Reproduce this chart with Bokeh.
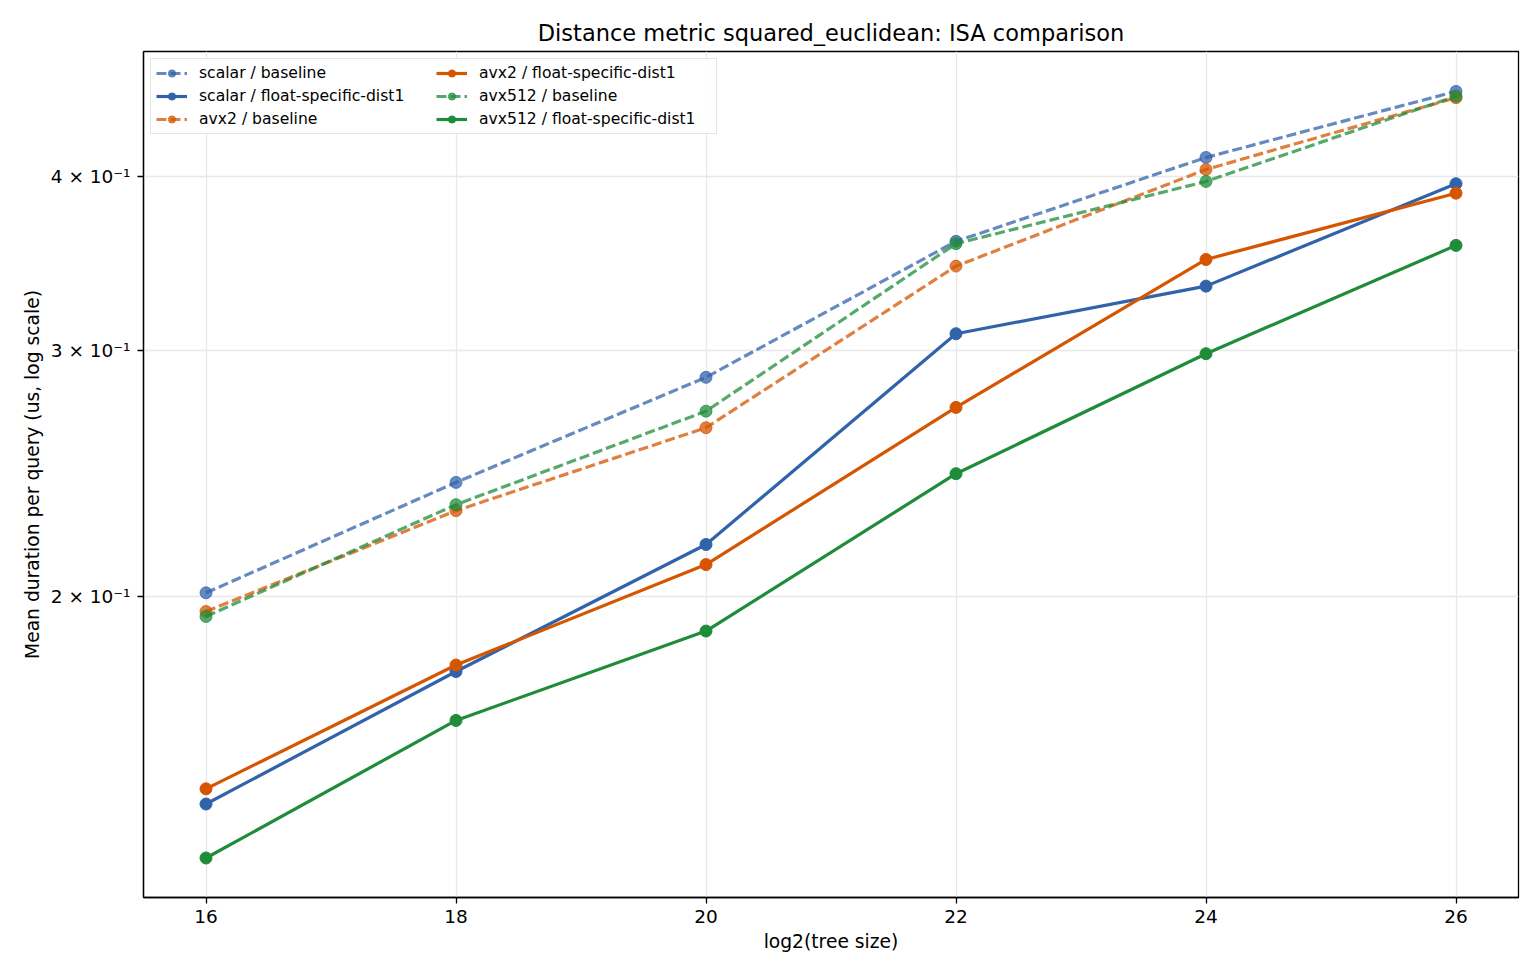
from bokeh.plotting import figure
from bokeh.models import FixedTicker, Range1d, Legend, LegendItem
from bokeh.embed import file_html
from bokeh.resources import INLINE

# log2 of the tree size
tree_log2 = [16, 18, 20, 22, 24, 26]

# mean duration per query (us)
scalar_baseline = [0.2013, 0.2415, 0.2872, 0.3594, 0.4127, 0.4602]
scalar_float = [0.1421, 0.1768, 0.2180, 0.3086, 0.3338, 0.3952]
avx2_baseline = [0.1952, 0.2305, 0.2643, 0.3450, 0.4046, 0.4554]
avx2_float = [0.1457, 0.1787, 0.2109, 0.2733, 0.3488, 0.3891]
avx512_baseline = [0.1936, 0.2328, 0.2716, 0.3580, 0.3967, 0.4566]
avx512_float = [0.1300, 0.1631, 0.1890, 0.2450, 0.2986, 0.3570]

y_tick_values = [0.2, 0.3, 0.4]
y_tick_labels = ["2 × 10⁻¹", "3 × 10⁻¹", "4 × 10⁻¹"]
x_tick_values = [16, 18, 20, 22, 24, 26]

FONT = "DejaVu Sans"
BLUE = "#3063a9"
ORANGE = "#d55500"
GREEN = "#1f8c3a"

series = [
    ("scalar / baseline", scalar_baseline, BLUE, True),
    ("scalar / float-specific-dist1", scalar_float, BLUE, False),
    ("avx2 / baseline", avx2_baseline, ORANGE, True),
    ("avx2 / float-specific-dist1", avx2_float, ORANGE, False),
    ("avx512 / baseline", avx512_baseline, GREEN, True),
    ("avx512 / float-specific-dist1", avx512_float, GREEN, False),
]

p = figure(
    width=1540, height=980,
    y_axis_type="log",
    x_range=Range1d(15.5, 26.5),
    y_range=Range1d(0.1218, 0.4915),
    output_backend="svg",
    toolbar_location=None,
    title="Distance metric squared_euclidean: ISA comparison",
    min_border_left=143, min_border_right=22,
    min_border_top=51, min_border_bottom=83,
)

p.title.align = "center"
p.title.text_font = FONT
p.title.text_font_size = "22.5px"
p.title.text_font_style = "normal"
p.title.text_color = "black"
p.title.standoff = 12

p.outline_line_color = "black"
p.outline_line_width = 1.3
p.background_fill_color = "white"
p.border_fill_color = "white"

for ax in (p.xaxis[0], p.yaxis[0]):
    ax.axis_line_color = "black"
    ax.axis_line_width = 1.3
    ax.major_tick_line_color = "black"
    ax.major_tick_line_width = 1.3
    ax.major_tick_out = 6
    ax.major_tick_in = 0
    ax.minor_tick_line_color = None
    ax.major_label_text_font = FONT
    ax.major_label_text_font_size = "18.5px"
    ax.major_label_text_color = "black"
    ax.axis_label_text_font = FONT
    ax.axis_label_text_font_size = "18.7px"
    ax.axis_label_text_font_style = "normal"
    ax.axis_label_text_color = "black"

p.xaxis.ticker = FixedTicker(ticks=x_tick_values)
p.yaxis.ticker = FixedTicker(ticks=y_tick_values)
p.yaxis.major_label_overrides = dict(zip(y_tick_values, y_tick_labels))
p.xaxis.axis_label = "log2(tree size)"
p.yaxis.axis_label = "Mean duration per query (us, log scale)"
p.xaxis.major_label_standoff = 6
p.yaxis.major_label_standoff = 7
p.yaxis.axis_label_standoff = 5

p.xgrid.ticker = FixedTicker(ticks=x_tick_values)
p.ygrid.ticker = FixedTicker(ticks=y_tick_values)
for g in (p.xgrid[0], p.ygrid[0]):
    g.grid_line_color = "#e8e8e8"
    g.grid_line_width = 1.3

items = []
for name, vals, color, dashed in series:
    alpha = 0.75 if dashed else 1.0
    ln = p.line(tree_log2, vals, line_color=color, line_width=3.2,
                line_alpha=alpha, line_dash="10 4" if dashed else "solid")
    pts = p.scatter(tree_log2, vals, size=12, fill_color=color,
                    line_color=color, fill_alpha=alpha, line_alpha=alpha)
    items.append(LegendItem(label=name, renderers=[ln, pts]))

legend = Legend(
    items=items,
    location="top_left",
    ncols=2,
    label_text_font=FONT,
    label_text_font_size="15.6px",
    label_text_color="black",
    glyph_width=31,
    glyph_height=18,
    label_width=232,
    spacing=5,
    label_standoff=12,
    padding=5,
    margin=7,
    border_line_color="#cccccc",
    border_line_width=1.3,
    background_fill_alpha=0.85,
)
p.add_layout(legend, "center")

open("out.html", "w").write(file_html(p, INLINE))
